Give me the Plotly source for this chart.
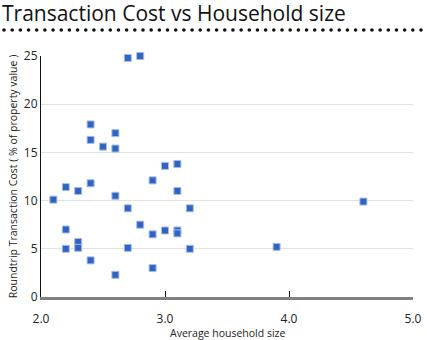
import plotly.graph_objects as go

household_size = [2.1, 2.2, 2.2, 2.2, 2.3, 2.3, 2.3, 2.4, 2.4, 2.4, 2.4, 2.5,
                  2.6, 2.6, 2.6, 2.6, 2.7, 2.7, 2.7, 2.8, 2.8, 2.9, 2.9, 2.9,
                  3.0, 3.0, 3.1, 3.1, 3.1, 3.1, 3.2, 3.2, 3.9, 4.6]
transaction_cost = [10.1, 11.4, 7.0, 5.0, 11.0, 5.7, 5.1, 17.9, 16.3, 11.8, 3.8, 15.6,
                    17.0, 15.4, 10.5, 2.3, 24.8, 9.2, 5.1, 25.0, 7.5, 12.1, 6.5, 3.0,
                    13.6, 6.9, 13.8, 11.0, 6.9, 6.6, 9.2, 5.0, 5.2, 9.9]

x_ticks = [2, 3, 4, 5]
x_tick_labels = ["2.0", "3.0", "4.0", "5.0"]
y_ticks = [0, 5, 10, 15, 20, 25]

FONT = "Open Sans"
W, H = 427, 340
L, R, T, B = 41, 14, 56, 43
pw, ph = W - L - R, H - T - B

fig = go.Figure()
fig.add_trace(go.Scatter(
    x=household_size, y=transaction_cost, mode="markers",
    marker=dict(symbol="square", size=7, color="#2f63c6",
                line=dict(color="#a9bde0", width=1)),
    cliponaxis=False,
    hoverinfo="x+y", showlegend=False,
))

# dotted separator under the title (decoration)
shapes = []
n_dots = 52
x0p, x1p, ypix, r = 4, 421, 30, 1.8
for i in range(n_dots):
    cx = x0p + (x1p - x0p) * i / (n_dots - 1)
    shapes.append(dict(
        type="circle", xref="paper", yref="paper",
        x0=(cx - r - L) / pw, x1=(cx + r - L) / pw,
        y0=(H - B - (ypix + r)) / ph, y1=(H - B - (ypix - r)) / ph,
        fillcolor="#111111", line=dict(width=0),
    ))

fig.update_layout(
    width=W, height=H,
    margin=dict(l=L, r=R, t=T, b=B),
    paper_bgcolor="white", plot_bgcolor="white",
    font=dict(family=FONT, color="#222222"),
    title=dict(text="Transaction Cost vs Household size",
               font=dict(family=FONT, size=21, color="#111111"),
               xref="container", x=2 / W, xanchor="left",
               yref="container", y=1 - 14 / H, yanchor="middle"),
    shapes=shapes,
    annotations=[dict(text="Average household size", showarrow=False,
                      xref="paper", x=0.5, xanchor="center",
                      yref="paper", y=-(333 - (H - B)) / ph, yanchor="middle",
                      font=dict(size=10.5, color="#222222"))],
    xaxis=dict(range=[2, 5], tickvals=x_ticks, ticktext=x_tick_labels,
               showgrid=False, zeroline=False,
               showline=True, linecolor="#808080", linewidth=3,
               ticks="inside", ticklen=6, tickcolor="#111111", tickwidth=1,
               ticklabelstandoff=9, automargin=False,
               tickfont=dict(size=12, color="#222222")),
    yaxis=dict(range=[0, 25], tickvals=y_ticks,
               showgrid=True, gridcolor="#e2e2e2", gridwidth=1,
               zeroline=False, automargin=False,
               showline=True, linecolor="#111111", linewidth=1,
               ticks="", tickfont=dict(size=12, color="#222222"),
               title=dict(text="Roundtrip Transaction Cost ( % of property value )",
                          font=dict(size=10.5, color="#222222"), standoff=4)),
)

fig.write_html("out.html")
